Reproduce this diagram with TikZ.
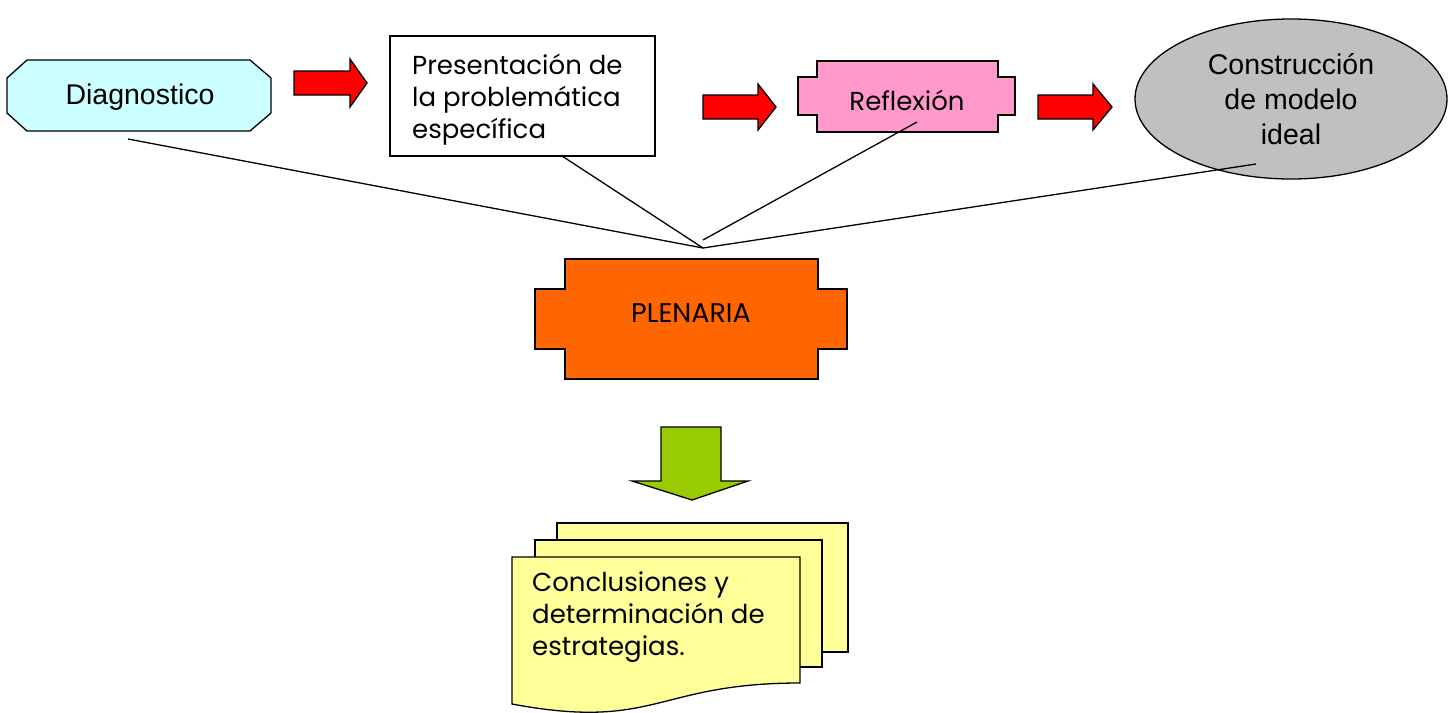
\documentclass[tikz,border=0pt]{standalone}
\usepackage{fontspec}
\setmainfont{Liberation Sans}
\newfontfamily\geofont{Poppins}
\definecolor{cyanfill}{HTML}{CCFFFF}
\definecolor{pinkfill}{HTML}{FF99CC}
\definecolor{orangefill}{HTML}{FF6600}
\definecolor{greenfill}{HTML}{99CC00}
\definecolor{yellowfill}{HTML}{FFFF99}
\definecolor{grayfill}{HTML}{C0C0C0}
\definecolor{redfill}{HTML}{FF0000}
\begin{document}
\begin{tikzpicture}[x=1pt,y=-1pt,
  outline/.style={draw=black,line width=1.3pt,line join=miter},
  redarrow/.style={outline,fill=redfill},
  conn/.style={draw=black,line width=1.3pt},
  geotext/.style={font=\geofont\fontsize{26}{32}\selectfont,inner sep=0pt},
  sanstext/.style={font=\fontsize{28.5}{35}\selectfont,inner sep=0pt}]
\useasboundingbox (0,0) rectangle (1450,712);
% Diagnostico
\draw[outline,fill=cyanfill] (7,78) -- (27,60) -- (250,60) -- (271,78) -- (271,113) -- (250,131) -- (27,131) -- (7,113) -- cycle;
\node[sanstext] (diag) at (140,97) {Diagnostico};
% arrow 1
\draw[redarrow] (294,71) -- (350,71) -- (350,59) -- (367,83) -- (350,107) -- (350,95) -- (294,95) -- cycle;
% Presentacion
\draw[outline,fill=white] (390,36) rectangle (655,156);
\node[geotext,anchor=west,align=left] (pres) at (412,100) {Presentación de\\la problemática\\específica};
% arrow 2
\draw[redarrow] (703,95) -- (758,95) -- (758,84) -- (776,107) -- (758,130) -- (758,119) -- (703,119) -- cycle;
% Reflexion
\draw[outline,fill=pinkfill] (817,61) -- (998,61) -- (998,77) -- (1015,77) -- (1015,115) -- (998,115) -- (998,132) -- (817,132) -- (817,115) -- (798,115) -- (798,77) -- (817,77) -- cycle;
\node[geotext] (refl) at (907,100) {Reflexión};
% arrow 3
\draw[redarrow] (1038,95) -- (1093,95) -- (1093,84) -- (1112,107) -- (1093,130) -- (1093,119) -- (1038,119) -- cycle;
% Construccion
\draw[outline,fill=grayfill] (1291,99) ellipse [x radius=156, y radius=80];
\node[sanstext,align=center] (cons) at (1291,99) {Construcción\\de modelo\\ideal};
% Plenaria
\draw[outline,fill=orangefill] (565,259) -- (818,259) -- (818,289) -- (847,289) -- (847,349) -- (818,349) -- (818,379) -- (565,379) -- (565,349) -- (535,349) -- (535,289) -- (565,289) -- cycle;
\node[geotext,font=\geofont\fontsize{27}{32}\selectfont] (plen) at (691,313) {PLENARIA};
% connectors
\coordinate (conv) at (703,248);
\coordinate (convr) at (703,240);
\coordinate (diagS) at (128,139);
\coordinate (presS) at (562,156);
\coordinate (reflS) at (917,122);
\coordinate (consS) at (1256,164);
\draw[conn] (diagS) -- (conv);
\draw[conn] (presS) -- (conv);
\draw[conn] (reflS) -- (convr);
\draw[conn] (consS) -- (conv);
% green arrow
\draw[outline,fill=greenfill] (661,427) -- (721,427) -- (721,481) -- (748,481) -- (692,500) -- (632,481) -- (661,481) -- cycle;
% documents
\draw[outline,fill=yellowfill] (557,523) rectangle (848,652);
\draw[outline,fill=yellowfill] (535,540) rectangle (822,667);
\draw[outline,fill=yellowfill] (512,557) -- (800,557) -- (800,683) .. controls (656,683) and (656,731) .. (512,704) -- cycle;
\node[geotext,anchor=west,align=left] (concl) at (532,617) {Conclusiones y\\determinación de\\estrategias.};
\end{tikzpicture}
\end{document}
